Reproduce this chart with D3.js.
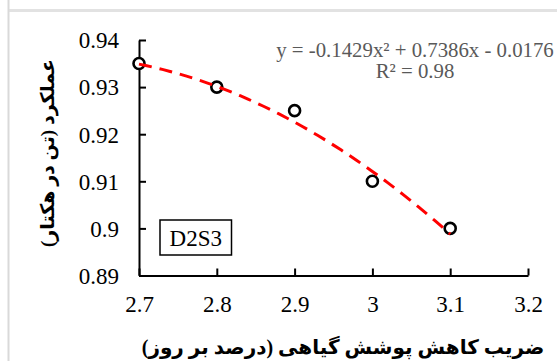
<!DOCTYPE html>
<html>
<head>
<meta charset="utf-8">
<script src="https://cdn.jsdelivr.net/npm/d3@7"></script>
<style>
  html, body { margin: 0; padding: 0; background: #fff; }
  svg { display: block; }
</style>
</head>
<body>
<svg id="chart" width="557" height="361"></svg>
<script>
// Observed yield against canopy cover reduction rate
const xValues = [2.7, 2.8, 2.9, 3.0, 3.1];
const yValues = [0.935, 0.93, 0.925, 0.91, 0.90];

// Axis ticks
const xTicks = [2.7, 2.8, 2.9, 3.0, 3.1, 3.2];
const yTicks = [0.89, 0.90, 0.91, 0.92, 0.93, 0.94];

// Second-order polynomial trend: y = a x^2 + b x + c
const trendCoef = [-0.1429, 0.7386, -0.0176];
const trendRange = [2.7, 3.1];

const equationText = "y = -0.1429x² + 0.7386x - 0.0176";
const r2Text = "R² = 0.98";
const seriesLabel = "D2S3";
const xTitle = "ضریب کاهش پوشش گیاهی (درصد بر روز)";
const yTitle = "عملکرد (تن در هکتار)";

const svg = d3.select("#chart");
const serif = '"Liberation Serif", "Times New Roman", serif';
const titleFont = '"Liberation Serif", "DejaVu Sans", serif';

// Outer frame edges
svg.append("rect").attr("x", 8).attr("y", 9).attr("width", 549).attr("height", 3).attr("fill", "#e2e2e2");
svg.append("rect").attr("x", 7.5).attr("y", 0).attr("width", 2).attr("height", 361).attr("fill", "#d9d9d9");

const x = d3.scaleLinear().domain([2.7, 3.2]).range([139, 528]);
const y = d3.scaleLinear().domain([0.89, 0.94]).range([275.5, 40]);

function styleTicks(g) {
  g.select(".domain").attr("stroke", "#000").attr("stroke-width", 2);
  g.selectAll(".tick line").attr("stroke", "#000").attr("stroke-width", 2);
  g.selectAll(".tick text")
    .style("font-family", serif)
    .style("font-size", "23px")
    .style("font-weight", "normal")
    .attr("fill", "#000");
}

// X axis (ticks point inward)
const xAxis = svg.append("g")
  .attr("transform", `translate(0,${y(0.89)})`)
  .call(d3.axisBottom(x).tickValues(xTicks).tickSizeInner(-7).tickSizeOuter(0)
    .tickFormat(d => d3.format("")(+d.toFixed(1))));
styleTicks(xAxis);
xAxis.selectAll(".tick text")
  .attr("y", 0).attr("dy", null)
  .attr("transform", "translate(0,36)");

// Y axis (ticks point inward)
const yAxis = svg.append("g")
  .attr("transform", `translate(${x(2.7)},0)`)
  .call(d3.axisLeft(y).tickValues(yTicks).tickSizeInner(-7).tickSizeOuter(0)
    .tickFormat(d => d3.format("")(+d.toFixed(2))));
styleTicks(yAxis);
yAxis.selectAll(".tick text")
  .attr("x", -20).attr("dy", "0.34em");

// Data markers
const pts = xValues.map((v, i) => ({ x: v, y: yValues[i] }));
svg.append("g").selectAll("circle").data(pts).join("circle")
  .attr("cx", d => x(d.x)).attr("cy", d => y(d.y)).attr("r", 5.5)
  .attr("fill", "#fff").attr("stroke", "#000").attr("stroke-width", 2.6);

// Trend curve sampled from the fitted polynomial
const poly = v => trendCoef[0] * v * v + trendCoef[1] * v + trendCoef[2];
const trendPts = d3.range(0, 41).map(i => {
  const v = trendRange[0] + (trendRange[1] - trendRange[0]) * i / 40;
  return [v, poly(v)];
});
svg.append("path")
  .datum(trendPts)
  .attr("d", d3.line().x(d => x(d[0])).y(d => y(d[1])))
  .attr("fill", "none").attr("stroke", "#ff0000").attr("stroke-width", 3)
  .attr("stroke-dasharray", "13,8");

// Trend equation
const eq = svg.append("g").style("font-family", serif).style("font-size", "20.8px")
  .attr("fill", "#595959").attr("text-anchor", "middle");
eq.append("text").attr("x", 415).attr("y", 57).text(equationText);
eq.append("text").attr("x", 415).attr("y", 78).text(r2Text);

// Series label box
const lbl = svg.append("g");
lbl.append("rect").attr("x", 160).attr("y", 220).attr("width", 71.5).attr("height", 35)
  .attr("fill", "#fff").attr("stroke", "#000").attr("stroke-width", 1.5);
lbl.append("text").attr("x", 195.75).attr("y", 245.5).attr("text-anchor", "middle")
  .style("font-family", serif).style("font-size", "23px").attr("fill", "#000").text(seriesLabel);

// Axis titles
svg.append("text")
  .attr("x", 343).attr("y", 354).attr("text-anchor", "middle")
  .style("font-family", titleFont)
  .style("font-weight", "bold").style("font-size", "20px").attr("fill", "#000")
  .attr("direction", "rtl").attr("unicode-bidi", "embed")
  .text(xTitle);

svg.append("text")
  .attr("transform", "translate(54,153) rotate(-90)")
  .attr("text-anchor", "middle")
  .style("font-family", titleFont)
  .style("font-weight", "bold").style("font-size", "19px").attr("fill", "#000")
  .attr("direction", "rtl").attr("unicode-bidi", "embed")
  .text(yTitle);
</script>
</body>
</html>
